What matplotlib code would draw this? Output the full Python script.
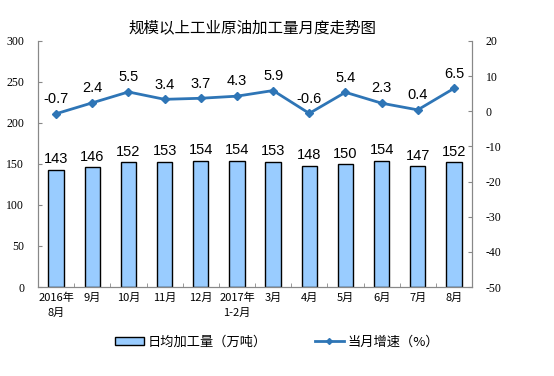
import numpy as np
import matplotlib
matplotlib.use('Agg')
import matplotlib.pyplot as plt
from matplotlib.patches import Patch
from matplotlib.lines import Line2D

plt.rcParams['font.family'] = ['Noto Sans CJK SC', 'DejaVu Sans']

# data
months = ['2016年\n8月', '9月', '10月', '11月', '12月', '2017年\n1-2月',
          '3月', '4月', '5月', '6月', '7月', '8月']
daily_output = [143, 146, 152, 153, 154, 154, 153, 148, 150, 154, 147, 152]
growth = [-0.7, 2.4, 5.5, 3.4, 3.7, 4.3, 5.9, -0.6, 5.4, 2.3, 0.4, 6.5]

bar_color = '#99CCFF'
line_color = '#2E75B6'

fig = plt.figure(figsize=(5.54, 3.76), dpi=100)
ax = fig.add_axes([0.0686, 0.2367, 0.7834, 0.6543])
x = np.arange(len(months))

ax.bar(x, daily_output, width=0.42, color=bar_color, edgecolor='black', linewidth=1.0, zorder=2)
for xi, v in zip(x, daily_output):
    ax.text(xi, v + 4, str(v), ha='center', va='bottom', fontsize=10.5, family='Liberation Sans')

ax.set_xlim(-0.5, len(months) - 0.5)
ax.set_ylim(0, 300)
ax.set_yticks(range(0, 301, 50))
ax.set_yticklabels([str(v) for v in range(0, 301, 50)], family='Liberation Serif', fontsize=8.5)
ax.set_xticks(x)
ax.set_xticklabels(months, fontsize=8, linespacing=1.6)
ax.set_xticks(np.arange(-0.5, len(months), 1), minor=True)
ax.tick_params(axis='x', which='major', length=0, pad=4)
ax.tick_params(axis='x', which='minor', direction='in', length=3, color='#888888')
ax.tick_params(axis='y', direction='in', length=3, color='#888888', pad=10)
for s in ax.spines.values():
    s.set_color('#888888')
    s.set_linewidth(0.8)
ax.spines['top'].set_visible(False)

ax2 = ax.twinx()
ax2.plot(x, growth, color=line_color, linewidth=2, marker='D', markersize=4, zorder=3)
for xi, v in zip(x, growth):
    ax2.text(xi, v + 2.2, f'{v:.1f}', ha='center', va='bottom', fontsize=10.5, family='Liberation Sans')
ax2.set_ylim(-50, 20)
ax2.set_yticks(range(-50, 21, 10))
ax2.set_yticklabels([str(v) for v in range(-50, 21, 10)], family='Liberation Serif', fontsize=8.5)
ax2.tick_params(axis='y', direction='in', length=3, color='#888888', pad=10)
for s in ax2.spines.values():
    s.set_color('#888888')
    s.set_linewidth(0.8)
ax2.spines['top'].set_visible(False)

fig.text(0.455, 0.927, '规模以上工业原油加工量月度走势图', ha='center', va='center', fontsize=11.2)

handles = [Patch(facecolor=bar_color, edgecolor='black', linewidth=1.0),
           Line2D([0], [0], color=line_color, linewidth=2, marker='D', markersize=3)]
fig.legend(handles, ['日均加工量（万吨）', '当月增速（%）'], loc='center', bbox_to_anchor=(0.50, 0.09),
           ncol=2, frameon=False, fontsize=9.5, columnspacing=3.6, handlelength=2.2, handleheight=0.6,
           handletextpad=0.3)

fig.savefig('out.png', dpi=100)
